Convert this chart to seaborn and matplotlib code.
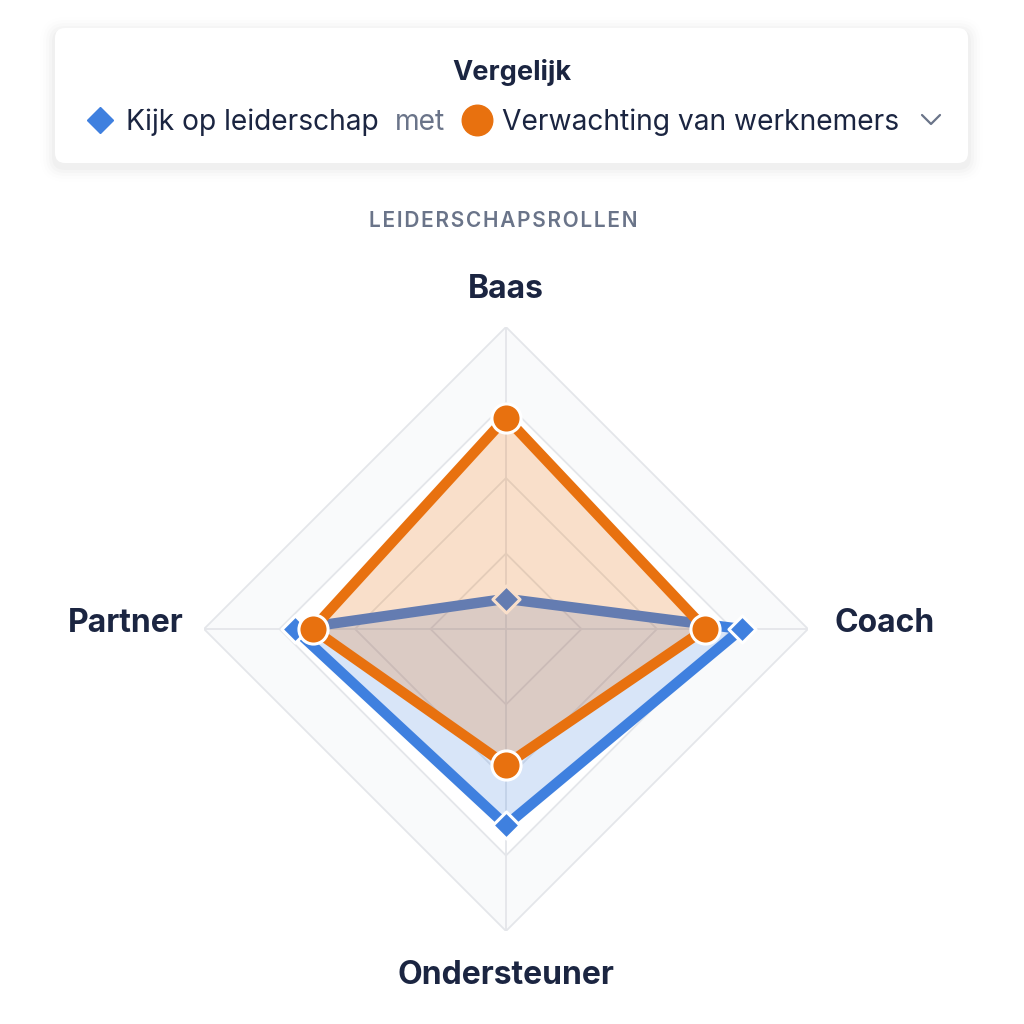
import numpy as np
import matplotlib.pyplot as plt
import seaborn as sns
from matplotlib.patches import FancyBboxPatch
from matplotlib.lines import Line2D

# data
categories = ['Baas', 'Coach', 'Ondersteuner', 'Partner']
kijk_op_leiderschap = [10, 78, 65, 70]
verwachting_werknemers = [70, 66, 45, 64]
grid_levels = [25, 50, 75, 100]

BLUE = '#3f80df'
ORANGE = '#e8710f'
NAVY = '#1b2541'
GREY = '#6a7489'
GRID = '#e4e6ea'

sns.set_theme(style='white')
plt.rcParams['font.family'] = ['Inter', 'DejaVu Sans']

fig = plt.figure(figsize=(10.24, 10.24), dpi=100)
fig.patch.set_facecolor('white')

def fx(px):
    return px / 1024

def fy(py):
    return 1 - py / 1024

# header card with soft shadow
for i, a in enumerate([0.018, 0.014, 0.010, 0.007, 0.004]):
    p = 3 + i * 3
    sh = FancyBboxPatch((fx(55), fy(163) - fx(4)), fx(913), fx(135),
                        boxstyle=f'round,pad={fx(p)},rounding_size={fx(10 + p)}',
                        transform=fig.transFigure, facecolor='black', edgecolor='none',
                        alpha=a, zorder=1)
    fig.patches.append(sh)
card = FancyBboxPatch((fx(55), fy(163)), fx(913), fx(135),
                      boxstyle=f'round,pad=0,rounding_size={fx(10)}',
                      transform=fig.transFigure, facecolor='white', edgecolor='none', zorder=2)
fig.patches.append(card)

fig.text(0.5, fy(73), 'Vergelijk', ha='center', va='center', fontsize=19.5,
         fontweight='bold', color=NAVY, zorder=3)
fig.text(fx(126), fy(122), 'Kijk op leiderschap', ha='left', va='center', fontsize=20.3,
         color=NAVY, zorder=3)
fig.text(fx(395), fy(122), 'met', ha='left', va='center', fontsize=20.3,
         color=GREY, zorder=3)
fig.text(fx(502), fy(122), 'Verwachting van werknemers', ha='left', va='center', fontsize=20.3,
         color=NAVY, zorder=3)
fig.lines.append(Line2D([fx(100)], [fy(120)], marker='D', markersize=13.5, color=BLUE,
                        transform=fig.transFigure, zorder=3))
fig.lines.append(Line2D([fx(477)], [fy(120)], marker='o', markersize=22, color=ORANGE,
                        transform=fig.transFigure, zorder=3))
fig.lines.append(Line2D([fx(922), fx(931), fx(940)], [fy(115), fy(124), fy(115)],
                        color=GREY, linewidth=1.6, transform=fig.transFigure, zorder=3))

fig.text(fx(503), fy(221), '\u200a'.join('LEIDERSCHAPSROLLEN'), ha='center', va='center',
         fontsize=15, fontweight='semibold', color=GREY)

# radar axes
cx, cy, R = 506, 629, 302
ax = fig.add_axes([fx(cx - R), (1024 - cy - R) / 1024, 2 * R / 1024, 2 * R / 1024],
                  projection='polar')
ax.set_theta_zero_location('N')
ax.set_theta_direction(-1)
ax.set_ylim(0, 100)
ax.set_axis_off()

theta = np.linspace(0, 2 * np.pi, len(categories), endpoint=False)
theta_closed = np.append(theta, theta[0])

# grid: outer band, rings, spokes
ax.fill(np.append(theta_closed, theta_closed[::-1]),
        [grid_levels[-1]] * 5 + [grid_levels[-2]] * 5,
        color='#f9fafb', linewidth=0, zorder=0)
for lvl in grid_levels:
    ax.plot(theta_closed, [lvl] * 5, color=GRID, linewidth=1.3, zorder=1)
for t in theta:
    ax.plot([t, t], [0, 100], color=GRID, linewidth=1.3, zorder=1)

# series
blue_r = np.append(kijk_op_leiderschap, kijk_op_leiderschap[0])
orange_r = np.append(verwachting_werknemers, verwachting_werknemers[0])

ax.fill(theta_closed, blue_r, color=BLUE, alpha=0.2, linewidth=0, zorder=2)
sns.lineplot(x=theta_closed, y=blue_r, sort=False, estimator=None, ax=ax,
             color=BLUE, linewidth=7.5, zorder=3)
sns.scatterplot(x=theta, y=kijk_op_leiderschap, ax=ax, marker='D', s=190,
                color=BLUE, edgecolor='white', linewidth=2.2, zorder=4)

ax.fill(theta_closed, orange_r, color=ORANGE, alpha=0.22, linewidth=0, zorder=5)
sns.lineplot(x=theta_closed, y=orange_r, sort=False, estimator=None, ax=ax,
             color=ORANGE, linewidth=7.5, zorder=6)
sns.scatterplot(x=theta, y=verwachting_werknemers, ax=ax, marker='o', s=440,
                color=ORANGE, edgecolor='white', linewidth=2.2, zorder=7)
ax.set_ylim(0, 100)

# category labels
label_style = dict(fontsize=23, fontweight='bold', color=NAVY,
                   textcoords='offset pixels', annotation_clip=False)
ax.annotate(categories[0], (theta[0], 100), xytext=(0, 22), ha='center', va='bottom', **label_style)
ax.annotate(categories[1], (theta[1], 100), xytext=(26, 6), ha='left', va='center', **label_style)
ax.annotate(categories[2], (theta[2], 100), xytext=(0, -29), ha='center', va='top', **label_style)
ax.annotate(categories[3], (theta[3], 100), xytext=(-20, 5), ha='right', va='center', **label_style)

fig.savefig('out.png', dpi=100, facecolor='white')
